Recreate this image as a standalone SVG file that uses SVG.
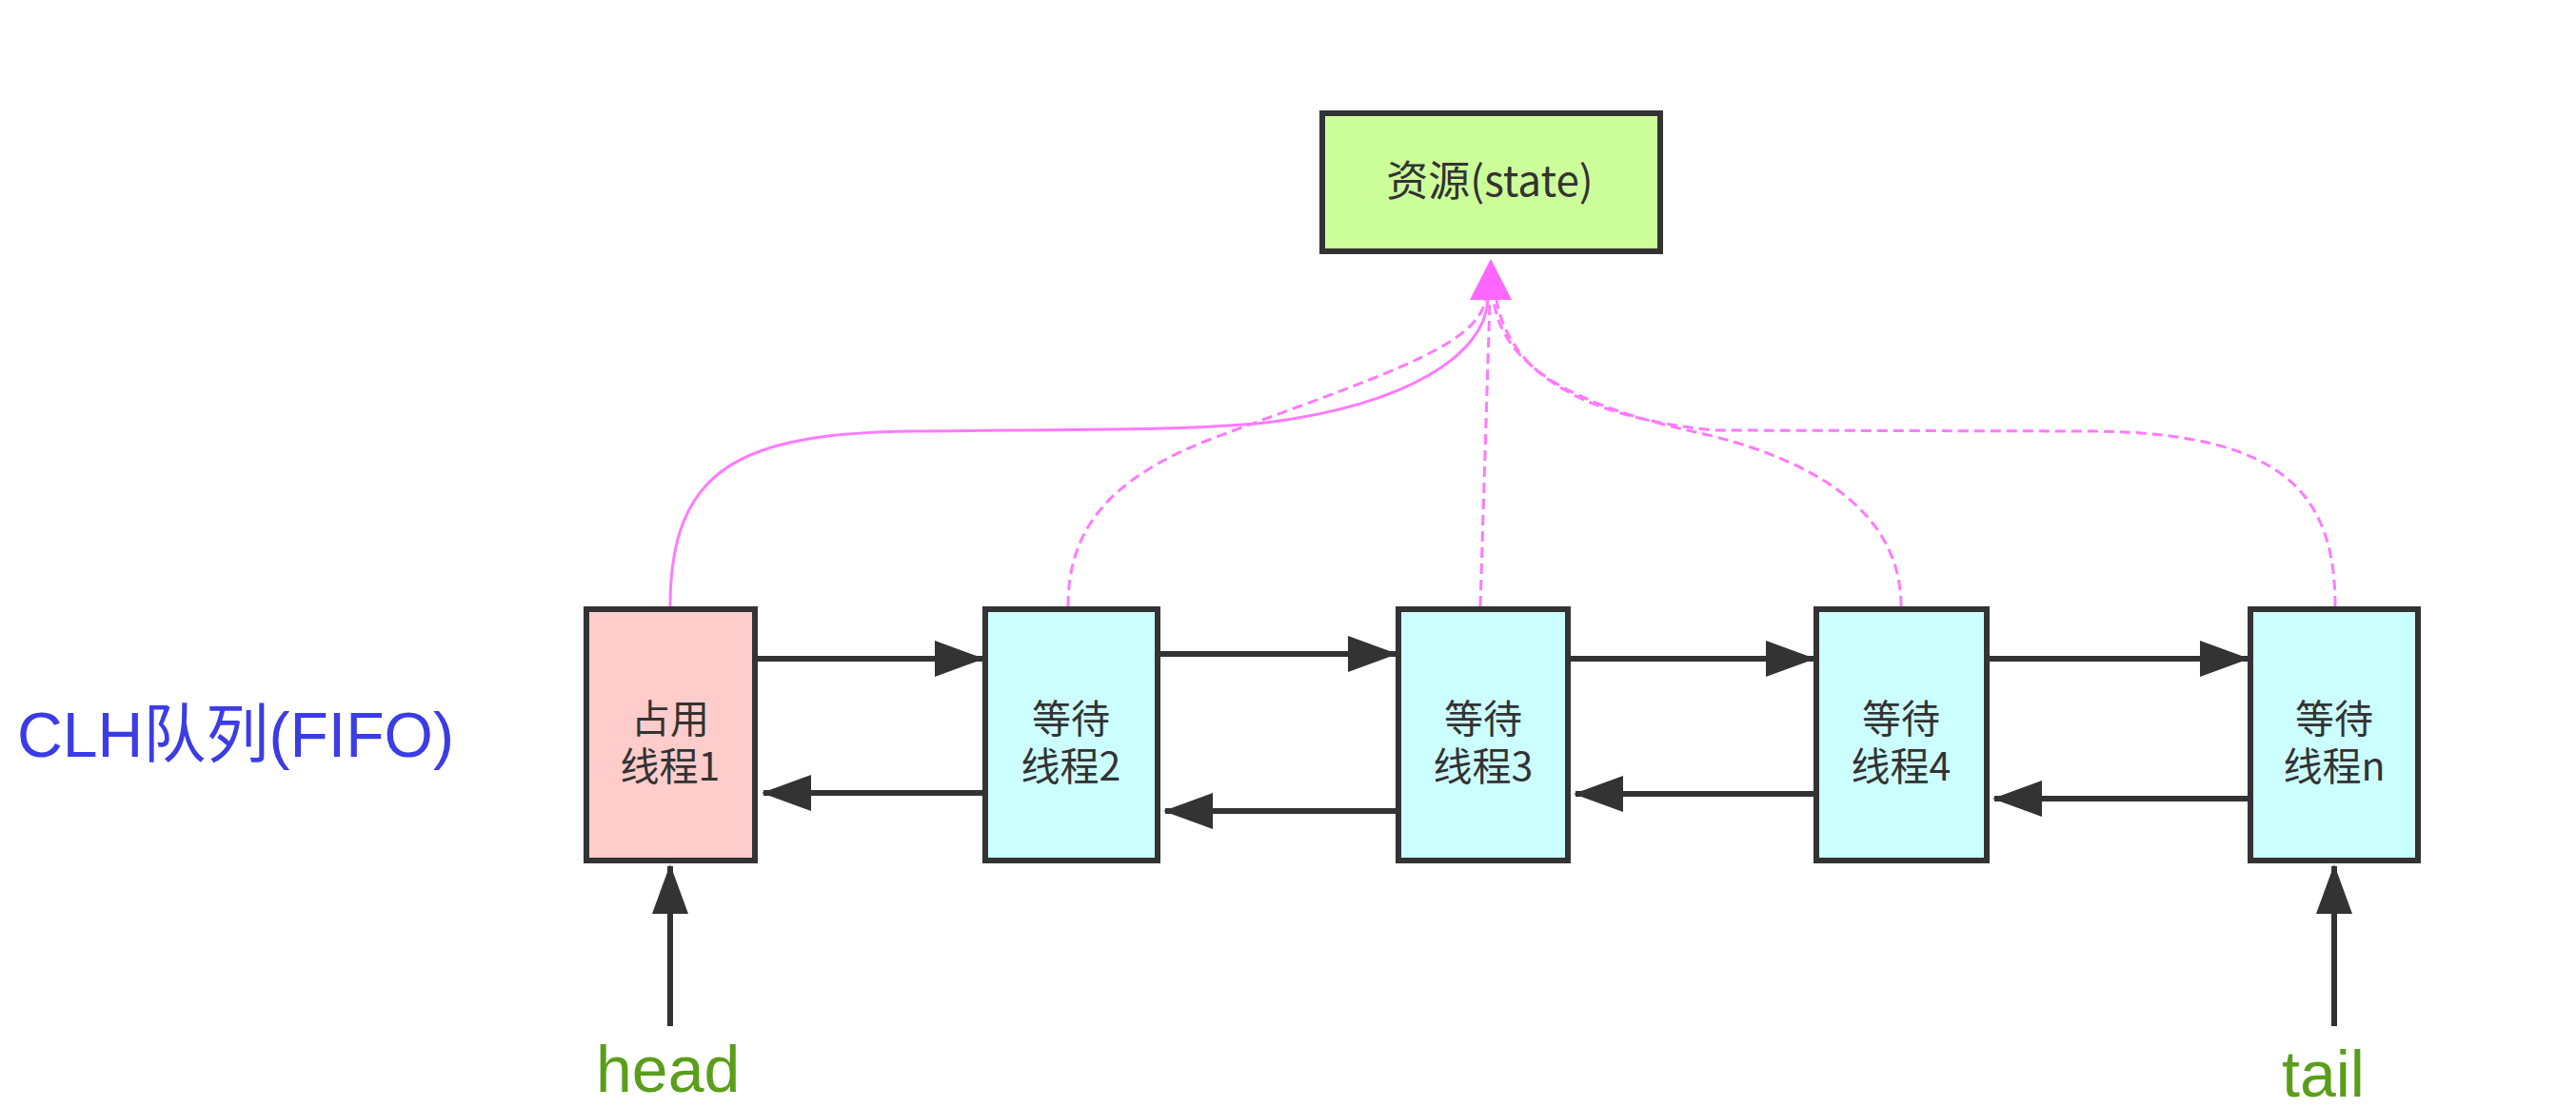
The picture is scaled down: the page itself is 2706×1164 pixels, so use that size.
<svg xmlns="http://www.w3.org/2000/svg" width="2706" height="1164" viewBox="0 0 2706 1164">
<defs>
<style>
.box{stroke:#333;stroke-width:6}
.res{fill:#ccff99}
.occ{fill:#ffcccc}
.wait{fill:#ccffff}
.nt{font-family:"Noto Sans CJK SC","Liberation Sans",sans-serif;font-size:41px;fill:#333;text-anchor:middle}
.rt{font-family:"Noto Sans CJK SC","Liberation Sans",sans-serif;font-size:44px;fill:#333;text-anchor:middle}
.link{stroke:#333;stroke-width:6;fill:none;marker-end:url(#ah)}
.pink{stroke:#ff7aff;stroke-width:3;fill:none}
.dash{stroke-dasharray:11 6}
.lbl{font-family:"Liberation Sans","Noto Sans CJK SC",sans-serif;font-size:68px;fill:#5a9e1a}
</style>
<marker id="ah" markerUnits="userSpaceOnUse" markerWidth="52" markerHeight="38" refX="50" refY="19" orient="auto">
<path d="M0,0 L52,19 L0,38 Z" fill="#333"/>
</marker>
</defs>
<rect width="2706" height="1164" fill="#fff"/>
<g id="connectors">
<path class="pink" d="M704,637 C704,490 780,455 960,453 C1150,451 1250,452 1330,444 C1480,425 1560,372 1563,315"/>
<path class="pink dash" d="M1122,637 C1122,560 1160,505 1270,462 C1440,398 1553,365 1560,315"/>
<path class="pink dash" d="M1555,637 L1565,315"/>
<path class="pink dash" d="M1997,637 C1997,535 1900,482 1790,456 C1690,434 1580,400 1569,315"/>
<path class="pink dash" d="M2453,637 C2453,520 2400,455 2200,453 L1800,452 C1680,440 1588,402 1572,315"/>
<path d="M1566,272 L1588,315 L1544,315 Z" fill="#ff66ff"/>
<line class="link" x1="796" y1="692" x2="1032" y2="692"/>
<line class="link" x1="1219" y1="687" x2="1466" y2="687"/>
<line class="link" x1="1650" y1="692" x2="1905" y2="692"/>
<line class="link" x1="2090" y1="692" x2="2361" y2="692"/>
<line class="link" x1="1032" y1="833" x2="802" y2="833"/>
<line class="link" x1="1466" y1="852" x2="1224" y2="852"/>
<line class="link" x1="1905" y1="834" x2="1655" y2="834"/>
<line class="link" x1="2361" y1="839" x2="2095" y2="839"/>
<line class="link" x1="704" y1="1078" x2="704" y2="910"/>
<line class="link" x1="2452" y1="1078" x2="2452" y2="910"/>
</g>
<g id="resource">
<rect class="box res" x="1389" y="119" width="355" height="145"/>
<text class="rt" x="1565" y="206">资源(state)</text>
</g>
<g id="node1">
<rect class="box occ" x="616" y="640" width="177" height="264"/>
<text class="nt" x="704" y="770">占用</text>
<text class="nt" x="704" y="820">线程1</text>
</g>
<g id="node2">
<rect class="box wait" x="1035" y="640" width="181" height="264"/>
<text class="nt" x="1125" y="770">等待</text>
<text class="nt" x="1125" y="820">线程2</text>
</g>
<g id="node3">
<rect class="box wait" x="1469" y="640" width="178" height="264"/>
<text class="nt" x="1558" y="770">等待</text>
<text class="nt" x="1558" y="820">线程3</text>
</g>
<g id="node4">
<rect class="box wait" x="1908" y="640" width="179" height="264"/>
<text class="nt" x="1997" y="770">等待</text>
<text class="nt" x="1997" y="820">线程4</text>
</g>
<g id="noden">
<rect class="box wait" x="2364" y="640" width="176" height="264"/>
<text class="nt" x="2452" y="770">等待</text>
<text class="nt" x="2452" y="820">线程n</text>
</g>
<g id="title">
<text x="18" y="795" font-family="Liberation Sans, Noto Sans CJK SC, sans-serif" font-size="67" fill="#3c3ce6" textLength="459" lengthAdjust="spacingAndGlyphs">CLH队列(FIFO)</text>
</g>
<g id="head">
<text class="lbl" x="626" y="1147">head</text>
</g>
<g id="tail">
<text class="lbl" x="2397" y="1152">tail</text>
</g>
</svg>
